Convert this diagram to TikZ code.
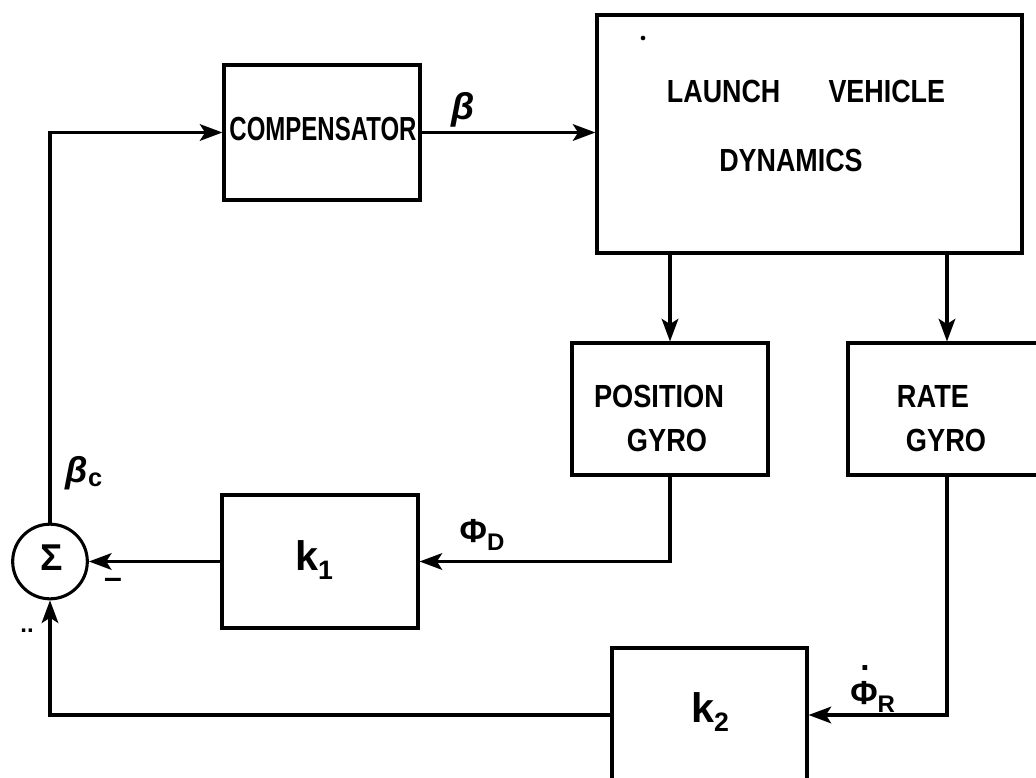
\documentclass[tikz,border=0pt]{standalone}
\usepackage{fontspec}
\usepackage{graphicx}
\setmainfont{Liberation Sans}
\usetikzlibrary{arrows.meta,fit}
\begin{document}
\begin{tikzpicture}[x=0.75pt,y=-0.75pt,
  blk/.style={draw, line width=2.3pt, inner sep=0pt},
  conn/.style={-{Stealth[length=17pt,width=12.5pt,inset=4pt]}, line width=2.3pt},
  lbl/.style={font=\bfseries, inner sep=0pt},
]
\clip (0,0) rectangle (1036,778);
\fill[white] (0,0) rectangle (1036,778);
% corner coordinates
\coordinate (c1) at (224,65);  \coordinate (c2) at (420,200);
\coordinate (l1) at (597,15);  \coordinate (l2) at (1022,253);
\coordinate (p1) at (572,343); \coordinate (p2) at (768,475);
\coordinate (r1) at (848,343); \coordinate (r2) at (1060,475);
\coordinate (a1) at (222,495); \coordinate (a2) at (418,628);
\coordinate (b1) at (612,648); \coordinate (b2) at (807,800);
% blocks
\node[blk, fit=(c1)(c2)] (comp) {};
\node[lbl] (compt) at (323,129) {\fontsize{25}{28}\selectfont\scalebox{0.72}[1]{COMPENSATOR}};
\node[blk, fit=(l1)(l2)] (lvd) {};
\node[lbl] (lvdt1) at (806,91) {\fontsize{24}{27}\selectfont\scalebox{0.84}[1]{LAUNCH\hspace{43pt}VEHICLE}};
\node[lbl] (lvdt2) at (791,160) {\fontsize{24}{27}\selectfont\scalebox{0.84}[1]{DYNAMICS}};
\node[circle, fill, inner sep=0pt, minimum size=3.5pt] (spot) at (643,38) {};
\node[blk, fit=(p1)(p2)] (pg) {};
\node[lbl] (pgt1) at (659,396) {\fontsize{24}{27}\selectfont\scalebox{0.85}[1]{POSITION}};
\node[lbl] (pgt2) at (667,440) {\fontsize{24}{27}\selectfont\scalebox{0.85}[1]{GYRO}};
\node[blk, fit=(r1)(r2)] (rg) {};
\node[lbl] (rgt1) at (933,396) {\fontsize{24}{27}\selectfont\scalebox{0.85}[1]{RATE}};
\node[lbl] (rgt2) at (946,440) {\fontsize{24}{27}\selectfont\scalebox{0.85}[1]{GYRO}};
\node[blk, fit=(a1)(a2)] (k1) {};
\node[lbl] (k1t) at (314,560) {\fontsize{31}{34}\selectfont k\raisebox{-7pt}{\fontsize{20}{20}\selectfont 1}};
\node[blk, fit=(b1)(b2)] (k2) {};
\node[lbl] (k2t) at (710,712) {\fontsize{31}{34}\selectfont k\raisebox{-7pt}{\fontsize{20}{20}\selectfont 2}};
\node[draw, circle, line width=2.3pt, inner sep=0pt, minimum size=56pt] (sig) at (50,561.5) {};
\node[lbl] (sigt) at (52,558) {\fontsize{28}{30}\selectfont Σ};
% helper coordinates
\coordinate (rx) at (947,0);
\coordinate (ky) at (0,715);
% connectors
\draw[conn] (sig.north) |- (comp.west);
\draw[conn] (comp.east) -- (lvd.west |- comp.east);
\draw[conn] (lvd.south -| pg.north) -- (pg.north);
\draw[conn] (lvd.south -| rx) -- (rg.north -| rx);
\draw[conn] (pg.south) |- (k1.east);
\draw[conn] (k1.west) -- (sig.east);
\draw[conn] (rg.south -| rx) |- (k2.east |- ky);
\draw[conn] (k2.west |- ky) -| (sig.south);
% labels
\node[lbl] (beta) at (463,110) {\fontsize{28}{30}\selectfont\itshape β};
\node[lbl] (betac) at (84,473) {\fontsize{27}{30}\selectfont{\itshape β}\raisebox{-3pt}{\fontsize{19}{19}\selectfont c}};
\node[lbl] (phid) at (482,535) {\fontsize{25}{28}\selectfont Φ\raisebox{-6pt}{\fontsize{18}{18}\selectfont D}};
\node[lbl, anchor=base west] (phir) at (850,704) {\fontsize{25}{28}\selectfont \rlap{\hspace{7.5pt}\raisebox{25pt}{.}}Φ\raisebox{-6pt}{\fontsize{18}{18}\selectfont R}};
\node[lbl] (minus) at (113,583) {\fontsize{24}{28}\selectfont –};
\node[lbl] (dots) at (27,631) {\fontsize{18}{18}\selectfont ..};
\end{tikzpicture}
\end{document}
